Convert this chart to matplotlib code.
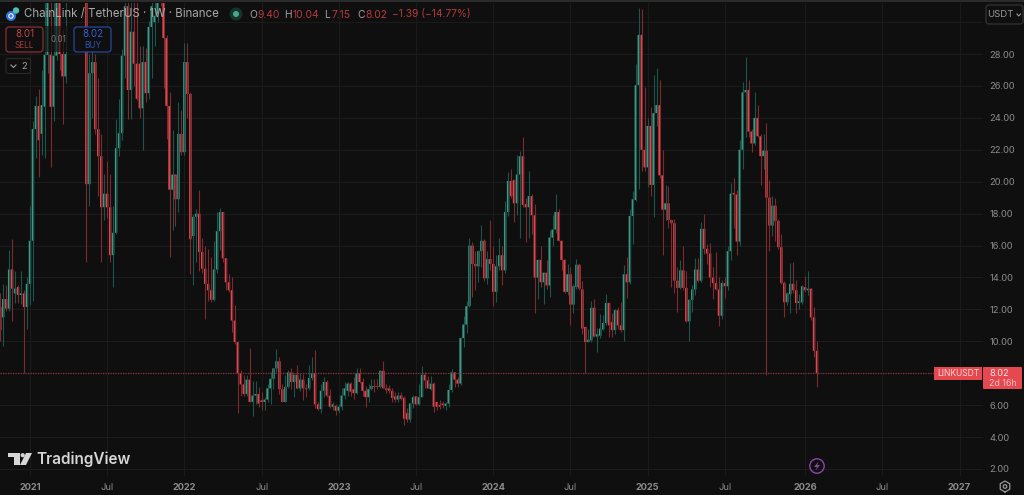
import matplotlib
matplotlib.use("Agg")
import numpy as np
import matplotlib.pyplot as plt
from matplotlib.patches import Circle, FancyBboxPatch, Polygon, Rectangle

opens = [12.15,11.5,12.65,12.05,14.5,13.0,13.4,12.9,13.0,12.15,
    13.6,16.3,23.3,24.75,23.0,24.7,27.95,27.95,24.7,27.9,
    33,28,26.6,33.5,35,37,41,40,44,36,
    19.85,26.8,27.5,23.3,21.6,18.4,19.25,18.4,15.4,16.8,
    22.1,23.05,27.9,31,25.75,29.4,27.4,27.4,24.6,27.5,
    25.55,29.7,30,30.5,33,33,29,24.75,19.5,20.45,
    18.9,23,21.85,27.5,25.5,16.6,17.8,18,15.6,14.55,
    13.6,13.2,12.6,14.5,16.9,18.1,15.2,13.7,13.2,11.3,
    9.95,8,7.3,6.7,7.6,6.2,6.6,6.7,6.3,6.2,
    6.35,7.05,7.65,8.3,8.75,7,6.2,7.15,8.05,7.45,
    7.9,7.05,7.6,7.05,7.05,7.7,8,6.05,5.75,6.9,
    7.45,6.6,5.9,5.95,5.65,5.9,6.6,6.9,7.35,7,
    6.75,8,7.45,6.9,6.5,7,7.2,7.2,7.15,8.15,
    7.05,7.05,6.9,6.55,6.35,6.6,6.45,5.5,5.1,6.1,
    6.55,6.05,6.5,7.9,7.55,7.0,7.35,6.2,6,6.1,
    5.95,6.1,6.95,8.05,7.6,7.35,10.2,11.05,12.2,16,
    14.85,14.7,15.65,16.3,13.95,15.15,14.85,13.1,14.7,15.4,
    14.45,18.1,20.05,20.1,18.65,20.45,21.6,18.6,18.4,19.1,
    17.9,14,15.1,13.7,14.3,13.5,16.5,17,18.1,16.3,
    15.1,13.1,14.2,12.3,13.4,14.8,13.25,10.9,9.95,10.05,
    12.1,10.3,10.35,10.75,11.15,12.4,11.2,10.7,11.95,11,
    10.7,14.2,13.7,17.85,18.85,26.05,29.2,22,20.9,23.5,
    19.8,24.3,24.8,20.4,18.25,18.65,17.6,17.4,13.8,13.35,
    14.45,13.35,11.25,12.6,13.25,14.5,13.8,17.05,15.8,15.5,
    14,13.65,13.25,11.6,13.65,13.45,15.65,19.3,19.2,16.25,
    22,25.6,25.75,23.15,22.4,24,22.85,21.6,21.95,19,
    17.25,18.5,17.55,15.9,13.65,12.45,12.95,13.6,13.2,12.4,
    12.45,13.4,13.2,13.3,11.5,9.4]

closes = [10.7,12.65,12.05,14.5,13.3,13.3,12.9,13.0,12.15,13.6,
    16.3,23.3,24.75,22.6,24.8,27.95,32,24.7,27.9,33,
    28,26.6,28,35,37,41,40,44,36,19.85,
    26.8,27.5,23.3,21.6,18.4,19.25,18.4,15.4,16.8,22.1,
    23.05,27.9,31,25.75,29.4,27.4,25.2,24.6,27.5,25.55,
    29.7,31,30.4,33,32,29,24.75,19.5,20.45,18.9,
    23,21.85,27.5,25.5,16.4,17.8,18,15.6,14.55,13.6,
    13.2,12.6,14.5,16.9,18.1,15.2,13.7,13.2,11.3,9.95,
    8,7.3,6.7,7.6,6.2,6.6,6.7,6.1,6.2,6.35,
    7.05,7.65,8.3,8.75,7,6.2,7.15,8.05,7.45,7.9,
    7.05,7.6,7.05,7,7.7,8,6.05,5.75,6.9,7.45,
    6.6,5.9,6.05,5.65,5.9,6.6,7.05,7.35,6.85,6.75,
    8,7.45,6.9,6.5,7,7.2,7.15,7.15,8.15,7.05,
    6.95,6.9,6.45,6.35,6.6,6.4,5.15,5.1,6.1,6.5,
    6.05,6.5,7.9,7.55,7.05,7.35,5.9,5.9,5.9,6,
    6.1,6.95,8.05,7.6,7.35,10.2,11.05,12.2,16,14.85,
    14.7,15.65,16.3,13.95,15.15,14.85,13.1,14.7,15.4,14.45,
    18.1,20.05,19.1,18.65,20.45,21.6,18.55,18.4,19.1,17.9,
    14,15.1,13.7,14.3,13.5,16.5,17,18.1,16.3,15.1,
    13.1,14.2,12.3,13.45,14.8,13.3,10.8,9.95,10.1,12.1,
    10.3,10.45,10.8,11.15,12.4,11,10.7,11.95,11,10.7,
    14.2,13.7,17.85,18.9,26.05,29.2,22,20.9,23.5,19.8,
    24.3,24.8,20.4,18.25,18.65,17.6,17.4,13.8,13.35,14.45,
    13.35,11.25,12.6,13.25,14.5,13.8,17.05,15.8,15.5,14,
    13.65,13.25,11.6,13.65,13.45,15.65,19.25,19.2,16.25,22,
    25.6,25.75,23.15,22.4,24,22.85,21.6,21.95,19,17.25,
    18.5,17.55,15.9,13.65,12.45,13,13.6,13.2,12.4,12.5,
    13.45,13.2,13.3,11.5,9.4,8.02]

highs = [13,13.6,13.5,15.7,16.4,14.4,13.5,14.4,13.2,14,
    18.5,23.8,25.4,25.8,27,33,34,33.5,33,35,
    34,29.5,33,38,39,43,45,46,46,40,
    28,28.9,28,26.5,23,20.5,21.3,20.5,18.5,23.9,
    25.2,28.3,33,32.5,33,32.5,32,28.5,28.5,28.4,
    30.1,33,33,34,34,34,29.2,25.6,23.25,20.45,
    25,24.5,28.7,28.7,25.6,18,18.3,19.5,16.5,16,
    15.8,15.3,16.3,18.1,18.35,18.1,15.2,14.2,14,12.25,
    10,8.2,7.9,7.9,9.6,7.5,7.5,7.15,6.8,6.5,
    7.3,8.1,8.3,9.5,9,7.35,7.9,8.2,8.3,8,
    8.5,8,7.95,7.3,8.5,9,9.45,6.2,7.35,7.75,
    7.55,7.0,6.2,6.05,6.05,7.05,7.45,7.45,7.45,7.75,
    8.3,8.35,7.7,7.2,7.3,7.65,7.65,7.65,8.2,8.75,
    7.35,7.25,7.1,6.8,6.8,6.8,6.6,5.8,6.15,6.65,
    6.6,7.35,8.45,8.1,7.85,7.85,7.45,6.2,6.35,6.25,
    6.2,7.3,8.25,8.1,7.75,10.25,11.6,12.5,16.5,16.2,
    15.65,15.7,17.3,16.4,15.65,17.6,16,15.4,16.5,16,
    18.8,20.6,20.8,20.2,21.7,21.9,22.8,18.95,20.7,19.2,
    18.6,15.15,16,14.3,15.1,17,17.9,19.2,18.3,16.3,
    15.15,14.85,14.65,13.6,15.15,14.85,13.8,10.9,10.75,12.5,
    12.65,10.85,11.7,11.65,12.95,12.45,11.8,12.05,12.15,12.45,
    14.8,15.3,18.3,19.4,27.35,30.9,30.8,25.95,24,24.7,
    26.7,27.15,26.35,22,19.8,19.75,17.65,17.65,14.65,15.1,
    15.95,14.4,12.65,13.55,15.25,15.2,17.45,17.95,16.1,16.15,
    14.65,15.6,14,13.85,14.05,15.95,19.95,20.25,19.5,22.6,
    26.25,27.8,26.4,23.3,25.6,24.8,23,23,23.65,20.1,
    19.1,19,17.65,16.75,13.75,13.1,14.9,14.95,13.85,12.95,
    13.55,14.1,14.4,13.3,12.15,10.04]

lows = [10,9.7,11.9,11.9,11.3,12.4,12.4,12.35,8.02,10.8,
    12.3,12.5,21.5,20.3,21.7,21.5,26.8,20.9,23.8,27.6,
    27,23.6,26.2,32.5,34,36,39,38.5,42,15,
    18.45,24,23,19.1,15,17.6,17.7,15,13.4,16.7,
    21.6,22.6,26.5,23.9,23.9,26,25.1,24,22,25,
    25.2,26.5,28.5,30,31,25.9,22.7,15.3,17,17.2,
    18.1,21.7,21.7,24,14.2,13.5,15,14.4,14.3,11.4,
    12.55,12.45,12.5,14.3,15.7,15,13.2,13.1,10.6,9.85,
    5.5,6.6,6.6,6.6,6.2,5.3,6.1,5.9,5.7,5.7,
    6.2,6.1,7,8.1,6.7,6.2,6.2,7.1,7,6.5,
    7,6.9,6.35,6.5,6.95,7.6,5.8,5.7,5.5,6.5,
    6.5,5.8,5.7,5.4,5.5,5.7,6.4,6.6,6.6,6.4,
    6.7,7.4,6.6,5.9,6.2,6.95,6.85,7,7.05,7.05,
    6.75,6.75,6.2,6.2,6.2,6.3,4.75,4.95,4.95,5.8,
    6,6,6.5,7.05,7.05,6.95,5.6,5.7,5.75,5.8,
    5.7,5.9,6.85,7.15,7.15,7.25,9.65,10.5,12.15,12.8,
    13.2,13.7,14.65,13.8,13.6,14.45,12.2,12.45,14.45,13.5,
    14.25,17.85,19,17.5,17.9,16.5,18.4,16.2,16.5,16.7,
    11.8,12.65,13.4,12.35,13.3,12.8,16,16.8,16.3,14.5,
    13,12.9,11,11.75,13.3,13.2,10.45,8.02,9.95,9.95,
    10.25,9.3,10.2,10.7,11.05,10.3,10.25,10.45,10.75,10.6,
    10.05,12.7,13.6,16.1,18.8,19.55,20.7,20.7,19.65,19.1,
    17.8,23.5,20.25,15.4,17.6,17.1,13.4,13,11.85,13.25,
    13.2,11.2,10.05,11.85,12.9,13.7,13.7,15.5,14.85,13.4,
    12.65,13.2,10.95,11.4,12.7,13.2,15.1,17.1,15.4,16,
    20.8,22.8,22.8,21.85,22.3,22.8,19.8,20.8,7.9,15.65,
    16.6,16.3,15.8,13.6,11.55,12.3,11.75,13,11.75,12,
    12.35,13.1,12.9,11.35,9,7.15]

time_ticks = [10, 36, 62, 88, 114, 140, 166, 192, 218, 244, 271, 297, 323]
time_labels = ['2021', 'Jul', '2022', 'Jul', '2023', 'Jul', '2024', 'Jul', '2025', 'Jul', '2026', 'Jul', '2027']
price_ticks = [2, 4, 6, 8, 10, 12, 14, 16, 18, 20, 22, 24, 26, 28, 30]
hidden_price_labels = [8, 30]
last_price = 8.02

BG = '#0f0f0f'
GRID = '#1b1b1b'
UP = '#3f9c89'
DOWN = '#e5484f'
UP_WICK = '#1c5549'
DOWN_WICK = '#7d2a30'
AXIS_TEXT = '#8c8c8c'
FONT = 'Inter'

plt.rcParams['font.family'] = [FONT, 'DejaVu Sans']

o = np.array(opens)
c = np.array(closes)
h = np.array(highs)
l = np.array(lows)
weeks = np.arange(len(o))
rising = c >= o

fig = plt.figure(figsize=(10.24, 4.95), dpi=100, facecolor=BG)
ax = fig.add_axes([0, 19 / 495, 983 / 1024, 473 / 495], facecolor=BG)

ax.grid(True, color=GRID, lw=0.8)
ax.set_axisbelow(True)
ax.vlines(weeks[rising], l[rising], h[rising], color=UP_WICK, lw=0.8)
ax.vlines(weeks[~rising], l[~rising], h[~rising], color=DOWN_WICK, lw=0.8)
ax.bar(weeks[rising], (c - o)[rising], bottom=o[rising], width=0.82, color=UP, lw=0, snap=False)
ax.bar(weeks[~rising], (o - c)[~rising], bottom=c[~rising], width=0.82, color=DOWN, lw=0, snap=False)
ax.axhline(last_price, color='#8a3036', lw=0.9, ls=(0, (1, 1)))

ax.set_xlim(-0.084, 330.9)
ax.set_ylim(1.56, 31.2)
for s in ax.spines.values():
    s.set_visible(False)

ax.yaxis.tick_right()
ax.set_yticks(price_ticks)
ax.set_yticklabels(['' if p in hidden_price_labels else '%.2f' % p for p in price_ticks], fontsize=6.7, color=AXIS_TEXT)
ax.tick_params(axis='y', length=0, pad=4.5)
ax.set_xticks(time_ticks)
ax.set_xticklabels(time_labels, fontsize=6.7, color=AXIS_TEXT)
ax.tick_params(axis='x', length=0, pad=5)
for tick in ax.get_xticklabels():
    if tick.get_text() != 'Jul':
        tick.set_fontweight('bold')

# everything below is screen furniture, laid out in pixels
ui = fig.add_axes([0, 0, 1, 1], facecolor='none')
ui.set_xlim(0, 1024)
ui.set_ylim(495, 0)
ui.axis('off')

ui.add_patch(Rectangle((0, 0), 1024, 1.5, color='#2b2b2b', lw=0))

# symbol icon and header
ui.add_patch(Circle((11, 16), 5, color='#2f6fe0', lw=0))
ui.add_patch(Circle((11, 16), 2.2, fill=False, ec='white', lw=0.8))
ui.add_patch(Circle((16, 10.5), 3.2, color='#4fc0b0', lw=0))
ui.text(23.5, 14.5, 'ChainLink / TetherUS · 1W · Binance', color='#a8a8a8', fontsize=8.3, va='center')
ui.add_patch(Circle((236, 14), 6.5, color='#16332c', lw=0))
ui.add_patch(Circle((236, 14), 3, color='#46a892', lw=0))
RED_TXT = '#b8393f'
for x, txt, col in [(249, 'O', '#a0a0a0'), (257.5, '9.40', RED_TXT), (284, 'H', '#a0a0a0'), (293, '10.04', RED_TXT),
                    (324.5, 'L', '#a0a0a0'), (331, '7.15', RED_TXT), (357.5, 'C', '#a0a0a0'), (365.5, '8.02', RED_TXT),
                    (392, '−1.39 (−14.77%)', RED_TXT)]:
    ui.text(x, 14.5, txt, color=col, fontsize=7.4, va='center')

# sell / buy buttons
ui.add_patch(Rectangle((43, 26), 31, 26, color=BG, alpha=0.65, lw=0))
ui.text(58.5, 40, '0.01', color='#777777', fontsize=5.8, ha='center', va='center')
ui.add_patch(FancyBboxPatch((6, 27), 37, 25, boxstyle='round,pad=0,rounding_size=3', fc=BG, ec='#8a2f35', lw=0.9))
ui.text(24.5, 34, '8.01', color='#c8444a', fontsize=7, ha='center', va='center')
ui.text(24.5, 45, 'SELL', color='#a83a40', fontsize=5.9, ha='center', va='center')
ui.add_patch(FancyBboxPatch((74, 27), 37, 25, boxstyle='round,pad=0,rounding_size=3', fc=BG, ec='#27479c', lw=0.9))
ui.text(92.5, 34, '8.02', color='#3560d8', fontsize=7, ha='center', va='center')
ui.text(92.5, 45, 'BUY', color='#2f52b8', fontsize=5.9, ha='center', va='center')
ui.add_patch(FancyBboxPatch((6, 58.5), 24.5, 15, boxstyle='round,pad=0,rounding_size=2', fc=BG, ec='#2a2a2a', lw=0.8))
ui.plot([11, 13.5, 16], [65, 67.5, 65], color='#a0a0a0', lw=0.8)
ui.text(24, 66.5, '2', color='#a0a0a0', fontsize=6.8, ha='center', va='center')

# currency selector
ui.add_patch(FancyBboxPatch((986, 5), 37, 19, boxstyle='round,pad=0,rounding_size=3', fc=BG, ec='#333333', lw=0.9))
ui.text(1000.5, 14.5, 'USDT', color='#9a9a9a', fontsize=6.9, ha='center', va='center')
ui.plot([1017, 1018.7, 1020.5], [14, 16, 14], color='#9a9a9a', lw=0.8)

# last price tags
ui.add_patch(Rectangle((934, 367), 48, 13, color=DOWN, lw=0))
ui.text(958, 373.5, 'LINKUSDT', color='#f4d8d8', fontsize=6.1, ha='center', va='center')
ui.add_patch(FancyBboxPatch((983, 367), 39, 22, boxstyle='round,pad=0,rounding_size=1', color=DOWN, lw=0))
ui.text(989, 373.2, '8.02', color='#f6e0e0', fontsize=6.7, va='center')
ui.text(989, 383, '2d 16h', color='#f0c0c0', fontsize=6.4, va='center')

# logo
LOGO = '#d6d6d6'
ui.add_patch(Polygon([(8, 453), (20, 453), (20, 465), (14, 465), (14, 457), (8, 457)], color=LOGO, lw=0))
ui.add_patch(Circle((22.7, 455.2), 2.1, color=LOGO, lw=0))
ui.add_patch(Polygon([(26, 453), (32, 453), (26, 465), (20, 465)], color=LOGO, lw=0))
ui.text(36.5, 459.5, 'TradingView', color=LOGO, fontsize=11, fontweight='semibold', va='center')

# lightning badge
ui.add_patch(Circle((817, 466), 7.2, fill=False, ec='#8e44ad', lw=1.0))
ui.add_patch(Polygon([(818.5, 461.5), (814, 467), (816.8, 467), (815.5, 470.5), (820, 465), (817.2, 465)], color='#7d4a94', lw=0))

# settings gear
angles = np.linspace(0, 2 * np.pi, 7)
ui.plot(1005 + 5.5 * np.sin(angles), 486.5 + 5.5 * np.cos(angles), color='#9a9a9a', lw=0.9)
ui.add_patch(Circle((1005, 486.5), 1.8, fill=False, ec='#9a9a9a', lw=0.9))

plt.savefig('out.png', dpi=100, facecolor=BG)
